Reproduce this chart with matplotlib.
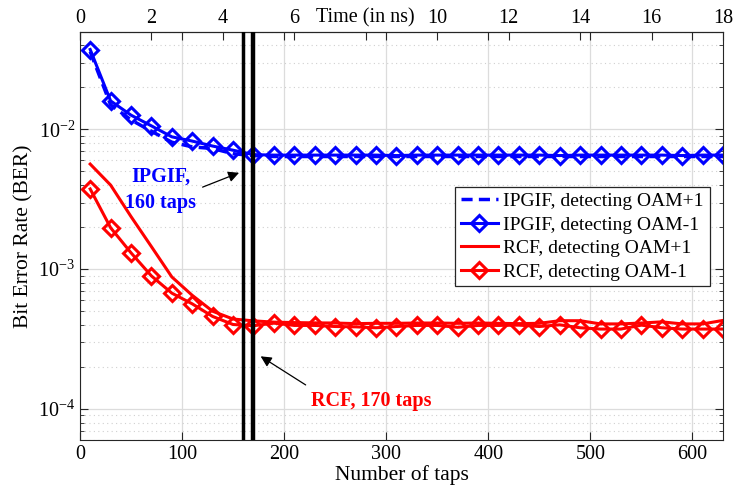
import matplotlib.pyplot as plt
from matplotlib.ticker import LogLocator, NullFormatter

taps = [10, 30, 50, 70, 90, 110, 130, 150, 170, 190, 210, 230, 250, 270, 290, 310,
        330, 350, 370, 390, 410, 430, 450, 470, 490, 510, 530, 550, 570, 590, 610, 630]

ipgif_p1 = [0.0360, 0.0150, 0.0117, 0.0097, 0.0081, 0.0075, 0.0073, 0.0067, 0.0065, 0.0064,
            0.0064, 0.0064, 0.0064, 0.0064, 0.0064, 0.0064, 0.0064, 0.0064, 0.0064, 0.0064,
            0.0064, 0.0064, 0.0064, 0.0064, 0.0064, 0.0064, 0.0064, 0.0064, 0.0064, 0.0064,
            0.0064, 0.0064]
ipgif_m1 = [0.0373, 0.0160, 0.01265, 0.0106, 0.00885, 0.00825, 0.0076, 0.0071, 0.0066, 0.00655,
            0.00655, 0.00655, 0.00655, 0.00655, 0.00655, 0.0065, 0.00655, 0.00655, 0.00655, 0.00655,
            0.00655, 0.00655, 0.00655, 0.0065, 0.00655, 0.00655, 0.00655, 0.00655, 0.00655, 0.0065,
            0.00655, 0.00655]
rcf_p1 = [0.00565, 0.0040, 0.00238, 0.00145, 0.00088, 0.00065, 0.00050, 0.00044, 0.000427, 0.000418,
          0.000415, 0.000413, 0.000412, 0.000408, 0.000410, 0.000410, 0.000412, 0.000412, 0.000410, 0.000412,
          0.000410, 0.000408, 0.000410, 0.000428, 0.000428, 0.000406, 0.000406, 0.000412, 0.000420, 0.000406,
          0.000406, 0.000430]
rcf_m1 = [0.00375, 0.00198, 0.00131, 0.000895, 0.000674, 0.000565, 0.000459, 0.000402, 0.000394, 0.000411,
          0.000396, 0.000396, 0.000389, 0.000387, 0.000381, 0.000389, 0.000396, 0.000396, 0.000384, 0.000396,
          0.000396, 0.000398, 0.000389, 0.000400, 0.000381, 0.000373, 0.000373, 0.000398, 0.000381, 0.000373,
          0.000373, 0.000373]

time_ticks = [0, 2, 4, 6, 8, 10, 12, 14, 16, 18]
time_labels = ['0', '2', '4', '6', 'Time (in ns)', '10', '12', '14', '16', '18']

plt.rcParams['font.family'] = ['Liberation Serif', 'DejaVu Serif']
plt.rcParams['mathtext.fontset'] = 'custom'
plt.rcParams['mathtext.rm'] = 'Liberation Serif'
plt.rcParams['font.size'] = 14.5

fig = plt.figure(figsize=(7.33, 5.01), dpi=100)
ax = fig.add_axes([0.1091, 0.1218, 0.8773, 0.8149])

ax.plot(taps, ipgif_p1, color='blue', lw=2.5, dashes=(3.2, 1.8),
        label='IPGIF, detecting OAM+1')
ax.plot(taps, ipgif_m1, color='blue', lw=2.2, marker='D', ms=8.5, mew=2.2,
        mfc='none', label='IPGIF, detecting OAM-1')
ax.plot(taps, rcf_p1, color='red', lw=2.2, label='RCF, detecting OAM+1')
ax.plot(taps, rcf_m1, color='red', lw=2.2, marker='D', ms=8.5, mew=2.2,
        mfc='none', label='RCF, detecting OAM-1')

ax.axvline(160, color='black', lw=2.5, zorder=5)
ax.axvline(170, color='black', lw=3.2, zorder=5)

ax.set_yscale('log')
ax.set_xlim(0, 630)
ax.set_ylim(6e-5, 0.05)
ax.set_xticks([0, 100, 200, 300, 400, 500, 600])
ax.yaxis.set_major_locator(LogLocator(base=10, numticks=10))
ax.yaxis.set_minor_locator(LogLocator(base=10, subs=range(2, 10), numticks=20))
ax.yaxis.set_minor_formatter(NullFormatter())
ax.tick_params(which='both', direction='in', top=True, right=True, color='#262626')
ax.tick_params(which='major', length=6)
ax.tick_params(which='minor', length=3)
ax.grid(True, which='major', color='#dcdcdc', lw=0.9)
ax.grid(True, which='minor', axis='y', color='#d0d0d0', lw=0.8, ls=(0, (1, 3)))
ax.set_axisbelow(True)
for s in ax.spines.values():
    s.set_color('#262626')

ax.set_xlabel('Number of taps', fontsize=15.5, labelpad=1)
ax.set_ylabel('Bit Error Rate (BER)', fontsize=15.5, labelpad=3)

top = ax.secondary_xaxis('top', functions=(lambda x: x * 18 / 630, lambda t: t * 630 / 18))
top.set_xticks(time_ticks, time_labels)
top.tick_params(direction='in', length=6, labelsize=14.5, pad=3, color='#262626')

ax.text(79, 0.0037, 'IPGIF,\n160 taps', color='blue', fontweight='bold', fontsize=14.5,
        ha='center', va='center', linespacing=1.45)
ax.annotate('', xy=(158.4, 0.00498), xytext=(117.6, 0.0038),
            arrowprops=dict(arrowstyle='-|>', color='black', lw=0.9, mutation_scale=16))
ax.text(285, 1.14e-4, 'RCF, 170 taps', color='red', fontweight='bold', fontsize=14.5,
        ha='center', va='center')
ax.annotate('', xy=(174.7, 2.44e-4), xytext=(223.4, 1.45e-4),
            arrowprops=dict(arrowstyle='-|>', color='black', lw=0.9, mutation_scale=16))

leg = ax.legend(loc='upper left', bbox_to_anchor=(0.583, 0.62), fontsize=14,
                fancybox=False, framealpha=1, edgecolor='#262626', handlelength=1.9,
                borderpad=0.3, labelspacing=0.3, handletextpad=0.3, borderaxespad=0)
leg.get_frame().set_linewidth(0.9)

fig.savefig('out.png', dpi=100)
